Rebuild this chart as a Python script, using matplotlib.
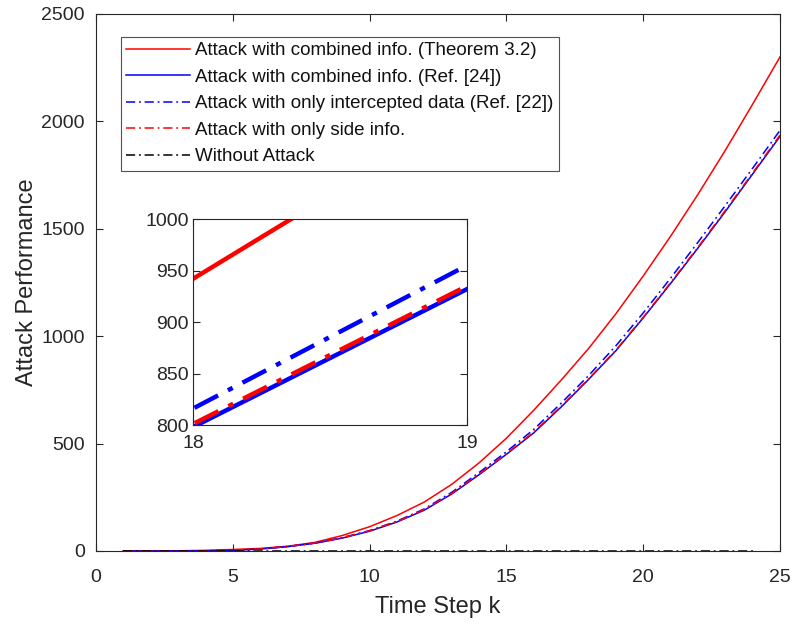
import numpy as np
import matplotlib.pyplot as plt

plt.rcParams['font.family'] = ['Liberation Sans', 'DejaVu Sans']

# time steps and attack performance
k = np.arange(1, 26)
k_none = np.arange(1, 25)

theorem = [0, 0.2, 1, 3, 7, 12, 22, 40, 72, 113, 165, 228, 310, 410, 525,
           655, 795, 942, 1104, 1280, 1465, 1660, 1865, 2080, 2300]
ref24 = [0, 0, 0.3, 1, 3, 9, 20, 36, 60, 92, 135, 190, 265, 355, 450,
         550, 670, 798, 932, 1085, 1245, 1410, 1580, 1755, 1930]
ref22 = [0, 0, 0.3, 1, 3, 9, 21, 37, 62, 95, 139, 196, 273, 365, 462,
         566, 688, 816, 955, 1108, 1270, 1437, 1608, 1782, 1958]
side = [0, 0, 0.3, 1, 3.5, 10, 21, 37, 61, 94, 137, 193, 268, 358, 453,
        554, 674, 801, 935, 1088, 1249, 1414, 1585, 1760, 1936]
no_attack = np.zeros(len(k_none))

labels = ['Attack with combined info. (Theorem 3.2)',
          'Attack with combined info. (Ref. [24])',
          'Attack with only intercepted data (Ref. [22])',
          'Attack with only side info.',
          'Without Attack']

dashdot = (0, (6, 2.5, 1.2, 2.5))
txt = '#262626'

fig = plt.figure(figsize=(7.93, 6.24), dpi=100)
ax = fig.add_axes([0.121, 0.117, 0.8626, 0.8606])

def draw(a, lw):
    a.plot(k, theorem, color='red', lw=lw, linestyle='-')
    a.plot(k, ref24, color='blue', lw=lw, linestyle='-')
    a.plot(k, ref22, color='blue', lw=lw, linestyle=dashdot)
    a.plot(k, side, color='red', lw=lw, linestyle=dashdot)
    a.plot(k_none, no_attack, color='black', lw=lw, linestyle=dashdot)

def style(a, size, xpad, ypad):
    for s in a.spines.values():
        s.set_color(txt)
        s.set_linewidth(0.8)
    a.tick_params(direction='in', top=True, right=True, colors=txt,
                  labelsize=size, length=5, width=0.8, labelcolor=txt)
    a.tick_params(axis='x', pad=xpad)
    a.tick_params(axis='y', pad=ypad)

draw(ax, 1.1)
ax.set_xlim(0, 25)
ax.set_ylim(0, 2500)
ax.set_xticks([0, 5, 10, 15, 20, 25])
ax.set_yticks([0, 500, 1000, 1500, 2000, 2500])
style(ax, 14, 13, 8)
ax.set_xlabel('Time Step k', fontsize=17, color=txt, labelpad=7)
ax.set_ylabel('Attack Performance', fontsize=17, color=txt, labelpad=2.5)

leg = ax.legend(ax.lines, labels, loc='upper left', bbox_to_anchor=(0.036, 0.958),
                fontsize=13.5, handlelength=3.4, frameon=True, fancybox=False,
                edgecolor=txt, borderpad=0.3, labelspacing=0.5,
                handletextpad=0.25, borderaxespad=0)
leg.get_frame().set_linewidth(0.8)
for t in leg.get_texts():
    t.set_color('#111111')

ins = fig.add_axes([0.2434, 0.3189, 0.3455, 0.330])
draw(ins, 3.2)
ins.set_xlim(18, 19)
ins.set_ylim(800, 1000)
ins.set_xticks([18, 19])
ins.set_yticks([800, 850, 900, 950, 1000])
style(ins, 14, 7, 3)

fig.savefig('out.png', dpi=100)
